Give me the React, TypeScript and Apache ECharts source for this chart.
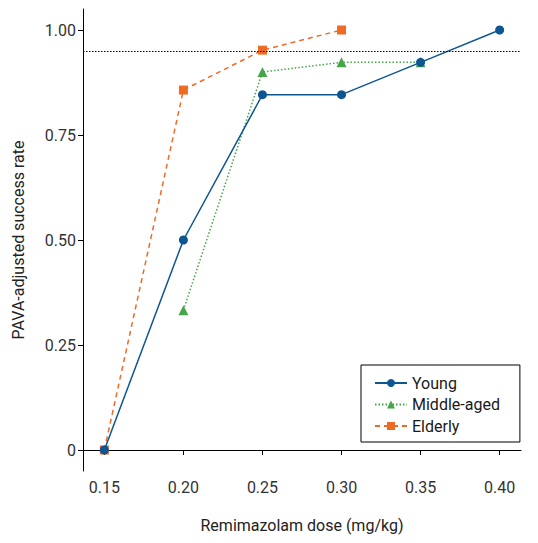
import React, { useEffect, useRef } from "react";
import * as echarts from "echarts";

const doses = [0.15, 0.2, 0.25, 0.3, 0.35, 0.4];
const youngDoses = [0.15, 0.2, 0.25, 0.3, 0.35, 0.4];
const youngRates = [0, 0.5, 0.846, 0.846, 0.923, 1.0];
const middleDoses = [0.2, 0.25, 0.3, 0.35];
const middleRates = [0.333, 0.9, 0.923, 0.923];
const elderlyDoses = [0.15, 0.2, 0.25, 0.3];
const elderlyRates = [0, 0.857, 0.952, 1.0];
const yTicks = [0, 0.25, 0.5, 0.75, 1.0];
const targetRate = 0.95;

const pair = (xs: number[], ys: number[]) => xs.map((x, i) => [x, ys[i]]);

export default function App() {
  const ref = useRef<HTMLDivElement>(null);
  useEffect(() => {
    if (!ref.current) return;
    const chart = echarts.init(ref.current, null, { renderer: "svg" });
    const font = "Roboto, 'Noto Sans', sans-serif";
    chart.setOption({
      animation: false,
      textStyle: { fontFamily: font },
      grid: { left: 83, top: 9, width: 438, height: 462, containLabel: false },
      legend: {
        left: 361,
        top: 365,
        orient: "vertical",
        padding: [10, 20, 8, 13],
        itemGap: 5.5,
        itemWidth: 32,
        itemHeight: 10,
        borderColor: "#000",
        borderWidth: 1,
        textStyle: { fontSize: 16, lineHeight: 16, color: "#1a1a1a", fontFamily: font },
        data: ["Young", "Middle-aged", "Elderly"],
      },
      xAxis: {
        type: "value",
        min: 0.1365,
        max: 0.4135,
        splitLine: { show: false },
        axisLine: { show: true, lineStyle: { color: "#000", width: 1 } },
        axisTick: { show: true, length: 5, lineStyle: { color: "#000" }, customValues: doses },
        axisLabel: {
          customValues: doses,
          formatter: (v: number) => v.toFixed(2),
          fontSize: 16,
          color: "#333",
          margin: 8,
        },
        name: "Remimazolam dose (mg/kg)",
        nameLocation: "middle",
        nameGap: 46,
        nameTextStyle: { fontSize: 16, color: "#222" },
      },
      yAxis: {
        type: "value",
        min: -0.05,
        max: 1.05,
        splitLine: { show: false },
        axisLine: { show: true, lineStyle: { color: "#000", width: 1 } },
        axisTick: { show: true, length: 5, lineStyle: { color: "#000" }, customValues: yTicks },
        axisLabel: {
          customValues: yTicks,
          formatter: (v: number) => (v === 0 ? "0" : v.toFixed(2)),
          fontSize: 16,
          color: "#333",
          margin: 7,
        },
        name: "PAVA-adjusted success rate",
        nameLocation: "middle",
        nameGap: 57,
        nameTextStyle: { fontSize: 16, color: "#222" },
      },
      series: [
        {
          name: "Elderly",
          type: "line",
          data: pair(elderlyDoses, elderlyRates),
          symbol: "rect",
          symbolSize: 9,
          itemStyle: { color: "#ee6b25" },
          lineStyle: { color: "#ee6b25", width: 1.5, type: [5, 4] },
          z: 2,
        },
        {
          name: "Middle-aged",
          type: "line",
          data: pair(middleDoses, middleRates),
          symbol: "triangle",
          symbolSize: 10,
          itemStyle: { color: "#45a548" },
          lineStyle: { color: "#45a548", width: 1.5, type: [1.5, 2] },
          z: 2,
        },
        {
          name: "Young",
          type: "line",
          data: pair(youngDoses, youngRates),
          symbol: "circle",
          symbolSize: 9,
          itemStyle: { color: "#0d5692" },
          lineStyle: { color: "#0d5692", width: 1.5, type: "solid" },
          z: 3,
          markLine: {
            silent: true,
            symbol: "none",
            label: { show: false },
            lineStyle: { color: "#000", type: [1.5, 1.5], width: 1 },
            data: [{ yAxis: targetRate }],
          },
        },
      ],
    });
    return () => chart.dispose();
  }, []);
  return <div ref={ref} style={{ width: 538, height: 543, margin: -8 }} />;
}
